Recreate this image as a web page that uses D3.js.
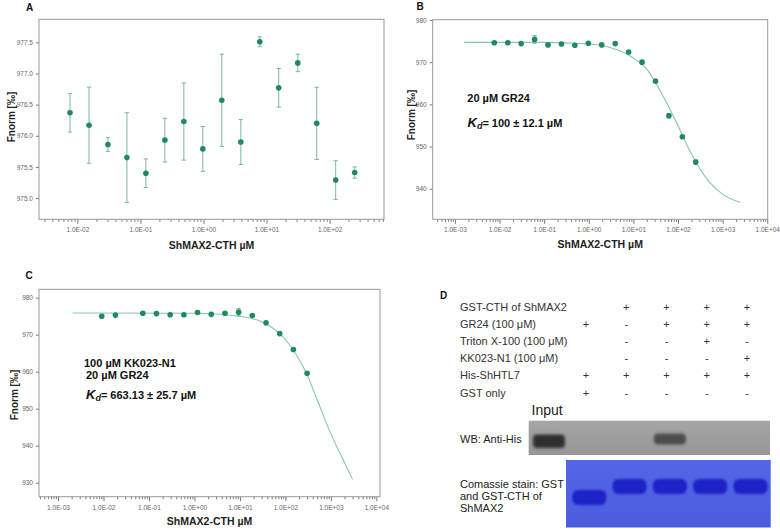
<!DOCTYPE html>
<html>
<head>
<meta charset="utf-8">
<script src="https://cdn.jsdelivr.net/npm/d3@7"></script>
<style>
  body { margin: 0; background: #fff; }
  text { font-family: "Liberation Sans", Arial, sans-serif; }
</style>
</head>
<body>
<svg id="fig" width="780" height="532"></svg>
<script>
// ---- data ----
// panel A: no ligand
var concA = [0.00763, 0.0153, 0.0305, 0.061, 0.122, 0.244, 0.488, 0.977, 1.95, 3.91, 7.81, 15.6, 31.3, 62.5, 125, 250];
var fnormA = [976.37, 976.17, 975.86, 975.65, 975.40, 975.93, 976.23, 975.79, 976.57, 975.90, 977.51, 976.77, 977.17, 976.20, 975.29, 975.41];
var errA = [0.31, 0.61, 0.11, 0.72, 0.23, 0.35, 0.62, 0.36, 0.74, 0.36, 0.08, 0.31, 0.14, 0.58, 0.31, 0.09];

// panel B: 20 uM GR24
var concB = concA;
var fnormB = [974.6, 974.6, 974.4, 975.4, 974.1, 974.3, 974.0, 974.5, 974.1, 974.4, 972.4, 970.0, 965.5, 957.3, 952.3, 946.3];
var errB = [0.2, 0.2, 0.2, 0.9, 0.2, 0.2, 0.2, 0.2, 0.2, 0.2, 0.2, 0.3, 0.3, 0.5, 0.3, 0.5];
var fitConcB = [0.0016, 0.1, 1, 3, 10, 20, 50, 100, 200, 500, 1000, 2500];
var fitFnormB = [974.7, 974.7, 974.3, 973.5, 971.0, 968.3, 961.3, 954.9, 948.2, 941.6, 938.7, 936.7];

// panel C: 100 uM KK023-N1 + 20 uM GR24
var concC = [0.00916, 0.0183, 0.0732, 0.146, 0.293, 0.586, 1.17, 2.34, 4.69, 9.38, 18.75, 37.5, 75, 150, 300];
var fnormC = [975.0, 975.3, 975.8, 975.7, 975.4, 975.4, 976.0, 975.5, 975.8, 976.1, 975.2, 973.2, 970.3, 966.0, 959.6];
var errC = [0.2, 0.2, 0.2, 0.2, 0.2, 0.2, 0.2, 0.2, 0.2, 1.0, 0.2, 0.2, 0.2, 0.2, 0.2];
var fitConcC = [0.0021, 1, 10, 30, 50, 100, 200, 300, 500, 1000, 2000, 3000];
var fitFnormC = [975.85, 975.8, 975.0, 973.5, 972.0, 968.7, 963.3, 959.2, 952.4, 943.2, 935.4, 930.9];

// panel D: pull-down table
var conditions = ["GST-CTH of ShMAX2", "GR24 (100 \u03bcM)", "Triton X-100 (100 \u03bcM)", "KK023-N1 (100 \u03bcM)", "His-ShHTL7", "GST only"];
var lanes = ["1", "2", "3", "4", "5"];
var signs = [
  ["", "+", "+", "+", "+"],
  ["+", "-", "+", "+", "+"],
  ["", "-", "-", "+", "-"],
  ["", "-", "-", "-", "+"],
  ["+", "+", "+", "+", "+"],
  ["+", "-", "-", "-", "-"]
];
var gelLanes = ["Input", "1", "2", "3", "4", "5"];
var wbSignal = [0.95, 0, 0, 0.7, 0, 0];
var stainBand = ["", "GST", "GST-CTH", "GST-CTH", "GST-CTH", "GST-CTH"];

var svg = d3.select("#fig");
var dotColor = "#1f8b5d", fitColor = "#88c5ac", errColor = "#7ab79d";

var defs = svg.append("defs");
defs.append("filter").attr("id", "blur").attr("x", "-30%").attr("y", "-60%").attr("width", "160%").attr("height", "220%")
  .append("feGaussianBlur").attr("stdDeviation", 1.8);
defs.append("filter").attr("id", "blur2").attr("x", "-30%").attr("y", "-60%").attr("width", "160%").attr("height", "220%")
  .append("feGaussianBlur").attr("stdDeviation", 1.1);
var wg = defs.append("linearGradient").attr("id", "wbGrad").attr("x1", 0).attr("y1", 0).attr("x2", 0).attr("y2", 1);
wg.append("stop").attr("offset", 0).attr("stop-color", "#a6a6a6");
wg.append("stop").attr("offset", 1).attr("stop-color", "#969696");
var cg = defs.append("linearGradient").attr("id", "cbGrad").attr("x1", 0).attr("y1", 0).attr("x2", 0).attr("y2", 1);
cg.append("stop").attr("offset", 0).attr("stop-color", "#5266e6");
cg.append("stop").attr("offset", 1).attr("stop-color", "#4a5ddf");

function sci(v) {
  var e = Math.round(Math.log10(v));
  return "1.0E" + (e < 0 ? "-" : "+") + (Math.abs(e) < 10 ? "0" : "") + Math.abs(e);
}

function drawPanel(p) {
  var g = svg.append("g");
  var x = d3.scaleLog().domain(p.xDomain).range([p.left, p.right]);
  var y = d3.scaleLinear().domain(p.yDomain).range([p.bottom, p.top]);

  var lo = Math.ceil(Math.log10(p.xDomain[0])), hi = Math.floor(Math.log10(p.xDomain[1]));
  var majors = d3.range(lo, hi + 1).map(function (e) { return Math.pow(10, e); });
  var minors = [];
  d3.range(lo - 1, hi + 1).forEach(function (e) {
    for (var m = 2; m < 10; m++) {
      var v = m * Math.pow(10, e);
      if (v > p.xDomain[0] && v < p.xDomain[1]) minors.push(v);
    }
  });

  var gx = g.append("g").attr("transform", "translate(0," + p.bottom + ")")
    .call(d3.axisBottom(x).tickValues(minors).tickSize(2.5).tickFormat(""));
  var gx2 = g.append("g").attr("transform", "translate(0," + p.bottom + ")")
    .call(d3.axisBottom(x).tickValues(majors).tickSize(4.5).tickPadding(4).tickFormat(sci));
  var gy = g.append("g").attr("transform", "translate(" + p.left + ",0)")
    .call(d3.axisLeft(y).tickValues(p.yTicks).tickSize(3).tickPadding(3).tickFormat(d3.format(p.yFormat)));
  [gx, gx2, gy].forEach(function (a) {
    a.select(".domain").remove();
    a.selectAll("line").attr("stroke", "#777");
    a.selectAll("text").attr("fill", "#666").attr("font-size", 6.5).style("font-family", '"Liberation Sans", Arial, sans-serif');
  });

  g.append("rect").attr("x", p.left).attr("y", p.top)
    .attr("width", p.right - p.left).attr("height", p.bottom - p.top)
    .attr("fill", "none").attr("stroke", "#999").attr("stroke-width", 1);

  if (p.fitX) {
    var line = d3.line().curve(d3.curveMonotoneX)
      .x(function (d) { return x(d[0]); }).y(function (d) { return y(d[1]); });
    g.append("path").datum(d3.zip(p.fitX, p.fitY))
      .attr("d", line).attr("fill", "none").attr("stroke", fitColor).attr("stroke-width", 1.1);
  }

  var pts = d3.zip(p.conc, p.fnorm, p.err);
  var eb = g.append("g").attr("stroke", errColor).attr("stroke-width", 1);
  eb.selectAll(null).data(pts).enter().append("line")
    .attr("x1", function (d) { return x(d[0]); }).attr("x2", function (d) { return x(d[0]); })
    .attr("y1", function (d) { return y(d[1] - d[2]); }).attr("y2", function (d) { return y(d[1] + d[2]); });
  [-1, 1].forEach(function (s) {
    eb.selectAll(null).data(pts).enter().append("line")
      .attr("x1", function (d) { return x(d[0]) - 2.2; }).attr("x2", function (d) { return x(d[0]) + 2.2; })
      .attr("y1", function (d) { return y(d[1] + s * d[2]); }).attr("y2", function (d) { return y(d[1] + s * d[2]); });
  });
  g.append("g").selectAll("circle").data(pts).enter().append("circle")
    .attr("cx", function (d) { return x(d[0]); }).attr("cy", function (d) { return y(d[1]); })
    .attr("r", 2.8).attr("fill", dotColor);

  g.append("text").attr("x", (p.left + p.right) / 2).attr("y", p.xTitleY)
    .attr("text-anchor", "middle").attr("font-size", 10.5).attr("font-weight", "bold").attr("fill", "#222")
    .text("ShMAX2-CTH \u00b5M");
  g.append("text").attr("transform", "translate(" + p.yTitleX + "," + p.yTitleY + ") rotate(-90)")
    .attr("text-anchor", "middle").attr("font-size", 10).attr("font-weight", "bold").attr("fill", "#222")
    .text("Fnorm [\u2030]");
  g.append("text").attr("x", p.letterX).attr("y", p.letterY)
    .attr("font-size", 10).attr("font-weight", "bold").attr("fill", "#111").text(p.letter);

  return { x: x, y: y };
}

function kdLabel(x, y, rest) {
  var t = svg.append("text").attr("x", x).attr("y", y).attr("font-weight", "bold").attr("fill", "#111");
  t.append("tspan").attr("font-size", 13).attr("font-style", "italic").text("K");
  t.append("tspan").attr("font-size", 9).attr("font-style", "italic").attr("dy", 2).text("d");
  t.append("tspan").attr("font-size", 11).attr("dy", -2).text(rest);
}
function note(x, y, s) {
  svg.append("text").attr("x", x).attr("y", y).attr("font-size", 11)
    .attr("font-weight", "bold").attr("fill", "#111").text(s);
}

drawPanel({
  letter: "A", letterX: 26, letterY: 11,
  left: 39, right: 384, top: 19.3, bottom: 219.3,
  xDomain: [Math.pow(10, -2.609), Math.pow(10, 2.863)], yDomain: [974.66, 977.87],
  yTicks: [975.0, 975.5, 976.0, 976.5, 977.0, 977.5], yFormat: ".1f",
  conc: concA, fnorm: fnormA, err: errA,
  xTitleY: 249, yTitleX: 15, yTitleY: 117
});

drawPanel({
  letter: "B", letterX: 416.5, letterY: 10,
  left: 432.7, right: 767.7, top: 19.7, bottom: 219.3,
  xDomain: [Math.pow(10, -3.498), Math.pow(10, 4.01)], yDomain: [932.74, 980.07],
  yTicks: [940, 950, 960, 970, 980], yFormat: "d",
  conc: concB, fnorm: fnormB, err: errB, fitX: fitConcB, fitY: fitFnormB,
  xTitleY: 248, yTitleX: 415, yTitleY: 115
});
note(467.3, 101.5, "20 \u00b5M GR24");
kdLabel(467.5, 127.3, "= 100 \u00b1 12.1 \u00b5M");

drawPanel({
  letter: "C", letterX: 25.5, letterY: 279,
  left: 39, right: 380, top: 289.3, bottom: 496.7,
  xDomain: [Math.pow(10, -3.418), Math.pow(10, 4.08)], yDomain: [926.22, 982.27],
  yTicks: [930, 940, 950, 960, 970, 980], yFormat: "d",
  conc: concC, fnorm: fnormC, err: errC, fitX: fitConcC, fitY: fitFnormC,
  xTitleY: 524.5, yTitleX: 18, yTitleY: 395
});
note(84, 366.5, "100 \u00b5M KK023-N1");
note(86, 378.5, "20 \u00b5M GR24");
kdLabel(86, 398.5, "=  663.13 \u00b1 25.7 \u00b5M");

// ---- panel D ----
svg.append("text").attr("x", 440).attr("y", 299).attr("font-size", 10).attr("font-weight", "bold").attr("fill", "#111").text("D");
var rowY = d3.scalePoint().domain(conditions).range([306.5, 392.5]);
var colX = d3.scalePoint().domain(lanes).range([586, 747]);
var dg = svg.append("g").attr("fill", "#333").attr("font-size", 11);
dg.selectAll(null).data(conditions).enter().append("text")
  .attr("x", 460).attr("y", function (d) { return rowY(d) + 4; }).text(function (d) { return d; });
signs.forEach(function (row, i) {
  dg.selectAll(null).data(row).enter().append("text")
    .attr("x", function (d, j) { return colX(lanes[j]); })
    .attr("y", rowY(conditions[i]) + 4)
    .attr("text-anchor", "middle").text(function (d) { return d; });
});

svg.append("text").attr("x", 531.5).attr("y", 414.5).attr("font-size", 14).attr("fill", "#222").text("Input");
svg.append("text").attr("x", 460).attr("y", 443).attr("font-size", 11).attr("fill", "#222").text("WB: Anti-His");
["Comassie stain: GST", "and GST-CTH of", "ShMAX2"].forEach(function (s, i) {
  svg.append("text").attr("x", 460).attr("y", 488 + i * 11.8).attr("font-size", 11).attr("fill", "#222").text(s);
});

var gelX = d3.scaleLinear().domain([0, gelLanes.length - 1]).range([549, 750.5]);

// western blot
svg.append("rect").attr("x", 528.7).attr("y", 420.7).attr("width", 241.3).attr("height", 34.3).attr("fill", "url(#wbGrad)");
wbSignal.forEach(function (s, i) {
  if (!s) return;
  svg.append("rect")
    .attr("x", gelX(i) - 16).attr("y", s > 0.8 ? 434.5 : 433.5)
    .attr("width", 32).attr("height", s > 0.8 ? 13.5 : 11).attr("rx", 4)
    .attr("fill", "#2a2a2a").attr("opacity", s)
    .attr("filter", "url(#blur)");
});

// coomassie gel
svg.append("rect").attr("x", 566).attr("y", 460).attr("width", 204.7).attr("height", 67.5).attr("fill", "url(#cbGrad)");
var bandY = d3.scaleOrdinal().domain(["GST", "GST-CTH"]).range([497.5, 486.5]);
stainBand.forEach(function (d, i) {
  if (!d) return;
  svg.append("rect")
    .attr("x", gelX(i) - 17).attr("y", bandY(d) - 7.5)
    .attr("width", 34).attr("height", 15).attr("rx", 6)
    .attr("fill", "#1b20c6").attr("filter", "url(#blur2)");
});
</script>
</body>
</html>
